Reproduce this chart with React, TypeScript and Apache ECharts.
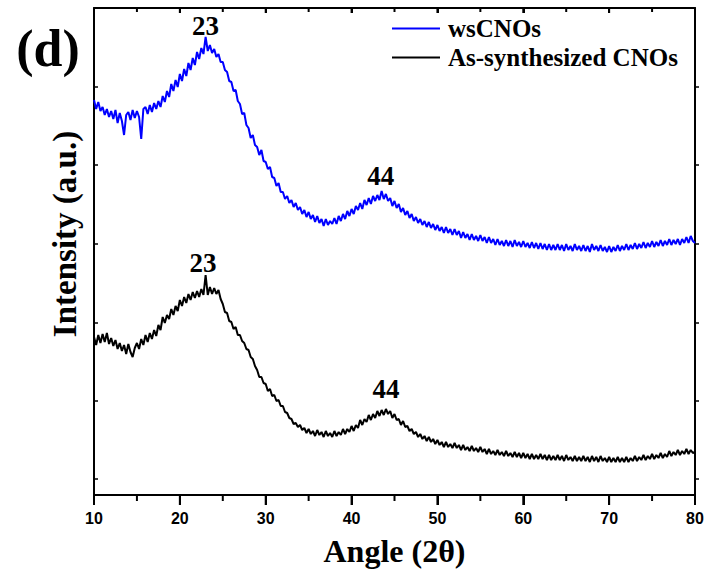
import React, { useEffect, useRef } from "react";
import * as echarts from "echarts";

// Sampling grid of the scans (degrees 2θ)
const angleStart = 10;
const angleStep = 0.25;

// wsCNOs intensity (a.u.), one value per 0.25°, 10° → 80°
const wsCNOs = [
  395, 386, 393, 384, 388, 380, 386, 378, 384, 376, 385, 372, 382, 374, 360, 380,
  383, 375, 385, 377, 384, 378, 356, 386, 388, 381, 390, 383, 392, 386, 394, 388,
  399, 393, 404, 398, 411, 404, 415, 408, 421, 414, 426, 419, 432, 425, 437, 430,
  443, 436, 447, 441, 458, 444, 450, 442, 446, 438, 441, 433, 433, 425, 423, 414,
  413, 404, 405, 394, 391, 381, 382, 370, 367, 357, 360, 350, 348, 340, 345, 334,
  333, 326, 328, 318, 317, 309, 312, 303, 303, 296, 299, 292, 295, 288, 292, 285,
  288, 281, 285, 278, 283, 276, 280, 273, 279, 272, 276, 269, 276, 270, 274, 271,
  277, 271, 279, 274, 281, 276, 284, 279, 286, 281, 289, 285, 292, 286, 295, 290,
  297, 291, 299, 294, 300, 295, 304, 296, 301, 294, 297, 289, 294, 287, 291, 283,
  287, 280, 284, 277, 281, 274, 278, 272, 276, 270, 274, 268, 273, 267, 271, 265,
  270, 264, 268, 262, 268, 262, 266, 260, 266, 260, 264, 257, 263, 257, 261, 255,
  261, 255, 259, 254, 260, 254, 258, 252, 258, 252, 256, 250, 256, 250, 254, 249,
  255, 249, 254, 248, 255, 249, 253, 248, 254, 248, 252, 247, 253, 247, 252, 246,
  252, 246, 251, 245, 251, 245, 250, 245, 251, 245, 250, 244, 251, 245, 249, 244,
  251, 245, 249, 244, 250, 244, 249, 243, 251, 245, 249, 244, 250, 244, 248, 243,
  249, 243, 248, 244, 250, 244, 249, 245, 251, 245, 250, 246, 252, 246, 251, 247,
  253, 247, 252, 248, 254, 248, 253, 249, 255, 249, 254, 250, 256, 250, 255, 251,
  256, 250, 256, 252, 258, 252, 259, 254, 252,
];

// As-synthesized CNOs intensity (a.u.), one value per 0.25°, 10° → 80°
const asSynth = [
  158, 150, 160, 152, 161, 153, 162, 151, 157, 149, 155, 146, 152, 144, 150, 141,
  151, 143, 138, 147, 152, 146, 156, 150, 160, 153, 162, 156, 165, 159, 170, 165,
  178, 172, 180, 176, 186, 180, 189, 184, 195, 189, 198, 192, 201, 195, 203, 197,
  204, 198, 206, 200, 220, 200, 208, 201, 207, 201, 205, 196, 191, 183, 182, 174,
  173, 166, 168, 160, 160, 154, 152, 146, 145, 138, 136, 129, 125, 118, 118, 112,
  111, 104, 106, 99, 100, 94, 95, 89, 89, 83, 82, 77, 76, 71, 72, 68,
  70, 65, 67, 62, 66, 61, 64, 59, 65, 60, 63, 58, 64, 59, 62, 58,
  64, 59, 63, 60, 66, 61, 66, 63, 69, 64, 70, 67, 75, 70, 76, 73,
  80, 75, 81, 77, 84, 79, 85, 80, 86, 81, 84, 77, 81, 75, 76, 70,
  74, 68, 69, 64, 66, 61, 63, 58, 61, 56, 59, 54, 58, 53, 56, 51,
  55, 50, 53, 48, 53, 48, 51, 47, 52, 47, 50, 45, 50, 45, 48, 44,
  49, 44, 47, 43, 48, 43, 46, 41, 46, 41, 44, 40, 45, 40, 43, 39,
  44, 39, 42, 38, 43, 38, 42, 37, 42, 37, 41, 36, 41, 36, 40, 36,
  41, 36, 40, 35, 40, 35, 39, 35, 40, 35, 39, 34, 40, 35, 38, 34,
  39, 34, 38, 34, 39, 34, 38, 33, 39, 34, 38, 33, 39, 34, 37, 33,
  38, 33, 37, 33, 38, 33, 37, 33, 38, 33, 37, 34, 39, 34, 38, 35,
  40, 35, 39, 36, 41, 36, 40, 37, 42, 37, 41, 38, 44, 39, 43, 40,
  45, 40, 44, 41, 46, 41, 45, 42, 43,
];

// Peak annotations: [angle, intensity at peak, label]
const wsPeaks: [number, number, string][] = [
  [23, 458, "23"],
  [43.4, 304, "44"],
];
const asPeaks: [number, number, string][] = [
  [22.8, 220, "23"],
  [44, 86, "44"],
];

const xMajorTicks = [10, 20, 30, 40, 50, 60, 70, 80];
const xMinorTicks = [15, 25, 35, 45, 55, 65, 75];
const yTickValues = [16, 94, 172, 251, 330, 408];

const serif = "'Liberation Serif', 'Times New Roman', serif";
const sans = "'Liberation Sans', Arial, sans-serif";

const Y_MIN = 0;
const Y_MAX = 487;

export default function App() {
  const ref = useRef<HTMLDivElement>(null);

  useEffect(() => {
    if (!ref.current) return;
    const chart = echarts.init(ref.current, undefined, { renderer: "svg" });

    const toPairs = (arr: number[]) =>
      arr.map((v, i) => [angleStart + i * angleStep, v]);

    const peakLabelOffsets = {
      ws: [
        [0, -11],
        [0, -15],
      ],
      as: [
        [-1, -12],
        [0, -20],
      ],
    };

    const mkMarks = (peaks: [number, number, string][], offs: number[][]) => ({
      symbol: "circle",
      symbolSize: 1,
      silent: true,
      itemStyle: { color: "rgba(0,0,0,0)" },
      data: peaks.map((p, i) => ({
        coord: [p[0], p[1]],
        value: p[2],
        label: {
          show: true,
          position: "inside",
          offset: offs[i],
          formatter: p[2],
          color: "#000",
          fontFamily: serif,
          fontWeight: "bold",
          fontSize: 27,
        },
      })),
    });

    const axisLineStyle = { color: "#000", width: 2 };
    const tickLine = { color: "#000", width: 2 };

    // tick marks as scatter symbols on the axis scale (bottom outward, top inward)
    const tickMarks = (
      values: number[],
      yVal: number,
      len: number,
      dir: number
    ) => ({
      type: "scatter",
      xAxisIndex: 0,
      yAxisIndex: 0,
      clip: false,
      silent: true,
      z: 20,
      symbol: "rect",
      symbolSize: [2, len],
      symbolOffset: [0, (dir * len) / 2],
      itemStyle: { color: "#000", opacity: 1 },
      data: values.map((v) => [v, yVal]),
    });

    chart.setOption({
      animation: false,
      backgroundColor: "#fff",
      grid: {
        left: 94,
        right: 16,
        top: 8,
        bottom: 74,
        containLabel: false,
        outerBoundsMode: "none",
      },
      legend: {
        orient: "vertical",
        left: 387,
        top: 11,
        itemWidth: 48,
        itemHeight: 2,
        itemGap: 4,
        icon: "rect",
        selectedMode: false,
        data: ["wsCNOs", "As-synthesized CNOs"],
        textStyle: {
          fontFamily: serif,
          fontWeight: "bold",
          fontSize: 25,
          color: "#000",
          padding: [0, 0, 0, 3],
        },
      },
      xAxis: [
        {
          type: "value",
          min: 10,
          max: 80,
          interval: 10,
          position: "bottom",
          splitLine: { show: false },
          axisLine: { show: true, onZero: false, lineStyle: axisLineStyle },
          axisTick: {
            show: true,
            inside: false,
            length: 10,
            lineStyle: tickLine,
          },
          axisLabel: {
            show: true,
            margin: 15,
            color: "#000",
            fontFamily: sans,
            fontWeight: "bold",
            fontSize: 16,
          },
          name: "Angle (2θ)",
          nameLocation: "middle",
          nameGap: 40,
          nameTextStyle: {
            fontFamily: serif,
            fontWeight: "bold",
            fontSize: 32,
            color: "#000",
          },
        },
        {
          type: "value",
          min: 10,
          max: 80,
          interval: 10,
          position: "top",
          splitLine: { show: false },
          axisLine: { show: true, onZero: false, lineStyle: axisLineStyle },
          axisTick: {
            show: true,
            inside: true,
            length: 5,
            lineStyle: tickLine,
          },
          axisLabel: { show: false },
        },
      ],
      yAxis: [
        {
          type: "value",
          position: "left",
          min: Y_MIN,
          max: Y_MAX,
          axisLine: { show: true, onZero: false, lineStyle: axisLineStyle },
          axisTick: {
            show: true,
            inside: true,
            length: 4,
            customValues: yTickValues,
            lineStyle: { color: "#000", width: 1.5 },
          },
          axisLabel: { show: false },
          splitLine: { show: false },
        },
        {
          type: "value",
          position: "right",
          min: Y_MIN,
          max: Y_MAX,
          axisLine: { show: true, onZero: false, lineStyle: axisLineStyle },
          axisTick: {
            show: true,
            inside: false,
            length: 4,
            customValues: yTickValues,
            lineStyle: { color: "#000", width: 1.5 },
          },
          axisLabel: { show: false },
          splitLine: { show: false },
        },
      ],
      series: [
        {
          name: "wsCNOs",
          type: "line",
          xAxisIndex: 0,
          yAxisIndex: 0,
          symbol: "none",
          showSymbol: false,
          lineStyle: { color: "#0000ff", width: 2 },
          itemStyle: { color: "#0000ff" },
          data: toPairs(wsCNOs),
          markPoint: mkMarks(wsPeaks, peakLabelOffsets.ws),
          z: 3,
        },
        {
          name: "As-synthesized CNOs",
          type: "line",
          xAxisIndex: 0,
          yAxisIndex: 0,
          symbol: "none",
          showSymbol: false,
          lineStyle: { color: "#000000", width: 2 },
          itemStyle: { color: "#000000" },
          data: toPairs(asSynth),
          markPoint: mkMarks(asPeaks, peakLabelOffsets.as),
          z: 3,
        },
        tickMarks(xMajorTicks, Y_MIN, 10, 1),
        tickMarks(xMinorTicks, Y_MIN, 6, 1),
        tickMarks(xMajorTicks, Y_MAX, 5, 1),
        tickMarks(xMinorTicks, Y_MAX, 4, 1),
      ],
      graphic: [
        {
          type: "text",
          x: 48,
          y: 48,
          style: {
            text: "(d)",
            fill: "#000",
            font: `bold 52px ${serif}`,
            textAlign: "center",
            textVerticalAlign: "middle",
          },
        },
        {
          type: "text",
          x: 65,
          y: 234,
          rotation: Math.PI / 2,
          style: {
            text: "Intensity (a.u.)",
            fill: "#000",
            font: `bold 33px ${serif}`,
            textAlign: "center",
            textVerticalAlign: "middle",
          },
        },
      ],
    });

    return () => chart.dispose();
  }, []);

  return (
    <div
      ref={ref}
      style={{ position: "fixed", left: 0, top: 0, width: 711, height: 569 }}
    />
  );
}
